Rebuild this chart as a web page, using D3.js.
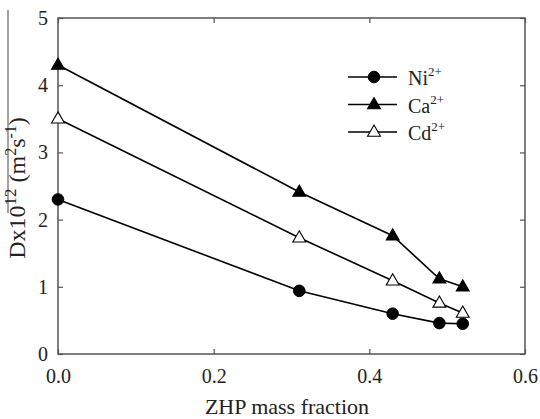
<!DOCTYPE html>
<html><head><meta charset="utf-8">
<script src="https://cdn.jsdelivr.net/npm/d3@7"></script>
</head><body><svg id="c" width="540" height="419"></svg>
<script>
const xValues = [0.0, 0.31, 0.43, 0.49, 0.52];
const niValues = [2.3, 0.94, 0.6, 0.46, 0.45];
const caValues = [4.3, 2.41, 1.76, 1.12, 1.0];
const cdValues = [3.5, 1.73, 1.09, 0.76, 0.61];
const xTicks = [0.0, 0.2, 0.4, 0.6];
const yTicks = [0, 1, 2, 3, 4, 5];
const seriesNames = ["Ni", "Ca", "Cd"];

d3.select("body").style("margin", "0").style("background", "#fff");
const FONT = "Liberation Serif";
const svg = d3.select("#c").style("display", "block");
const m = {l: 58, r: 525, t: 18, b: 354};
const x = d3.scaleLinear().domain([0, 0.6]).range([m.l, m.r]);
const y = d3.scaleLinear().domain([0, 5]).range([m.b, m.t]);
const axisColor = "#555";

svg.append("rect").attr("x", m.l).attr("y", m.t).attr("width", m.r - m.l).attr("height", m.b - m.t)
  .attr("fill", "none").attr("stroke", axisColor).attr("stroke-width", 1.5);

const gx = svg.append("g").attr("transform", `translate(0,${m.b})`)
  .call(d3.axisBottom(x).tickValues(xTicks).tickFormat(d3.format(".1f")).tickSizeInner(-5).tickSizeOuter(0).tickPadding(15));
const gxt = svg.append("g").attr("transform", `translate(0,${m.t})`)
  .call(d3.axisTop(x).tickValues(xTicks).tickFormat("").tickSizeInner(-5).tickSizeOuter(0));
const gy = svg.append("g").attr("transform", `translate(${m.l},0)`)
  .call(d3.axisLeft(y).tickValues(yTicks).tickFormat(d3.format("d")).tickSizeInner(-5).tickSizeOuter(0).tickPadding(10));
const gyr = svg.append("g").attr("transform", `translate(${m.r},0)`)
  .call(d3.axisRight(y).tickValues(yTicks).tickFormat("").tickSizeInner(-5).tickSizeOuter(0));
[gx, gxt, gy, gyr].forEach(g => {
  g.attr("font-family", FONT).attr("font-size", 20);
  g.select(".domain").remove();
  g.selectAll(".tick line").attr("stroke", axisColor).attr("stroke-width", 1.2);
  g.selectAll("text").attr("fill", "#222").attr("font-family", FONT).attr("font-size", 20);
});

svg.append("text").attr("x", 287).attr("y", 414).attr("text-anchor", "middle")
  .attr("font-family", FONT).attr("font-size", 22).attr("fill", "#222").text("ZHP mass fraction");

// y label (with the long overline seen in the reference)
svg.append("line").attr("x1", 8).attr("x2", 8).attr("y1", 10).attr("y2", 213)
  .attr("stroke", "#666").attr("stroke-width", 1.2);
const yl = svg.append("text").attr("transform", "translate(25,188) rotate(-90)").attr("text-anchor", "middle")
  .attr("font-family", FONT).attr("font-size", 24).attr("fill", "#222");
yl.append("tspan").text("Dx10");
yl.append("tspan").attr("dy", -9).attr("font-size", 17).text("12");
yl.append("tspan").attr("dy", 9).text(" (m");
yl.append("tspan").attr("dy", -9).attr("font-size", 16).text("2");
yl.append("tspan").attr("dy", 9).text("s");
yl.append("tspan").attr("dy", -9).attr("font-size", 16).text("-1");
yl.append("tspan").attr("dy", 9).text(")");

const series = [
  {name: "Ni", vals: niValues, shape: "circle", fill: "#000"},
  {name: "Ca", vals: caValues, shape: "triangle", fill: "#000"},
  {name: "Cd", vals: cdValues, shape: "triangle", fill: "#fff"}
];
const line = d3.line().x(d => x(d[0])).y(d => y(d[1]));
function marker(g, s, cx, cy) {
  if (s.shape === "circle") {
    g.append("circle").attr("cx", cx).attr("cy", cy).attr("r", 5.8).attr("fill", s.fill).attr("stroke", "#000").attr("stroke-width", 1);
  } else {
    const sym = d3.symbol().type(d3.symbolTriangle).size(72);
    g.append("path").attr("d", sym()).attr("transform", `translate(${cx},${cy + 0.5})`)
      .attr("fill", s.fill).attr("stroke", "#000").attr("stroke-width", 1.1);
  }
}
series.forEach(s => {
  const pts = xValues.map((xv, i) => [xv, s.vals[i]]);
  svg.append("path").datum(pts).attr("d", line).attr("fill", "none").attr("stroke", "#000").attr("stroke-width", 1.6);
  const g = svg.append("g");
  pts.forEach(p => marker(g, s, x(p[0]), y(p[1])));
});

const lg = svg.append("g");
series.forEach((s, i) => {
  const ly = 77 + i * 27.5;
  lg.append("line").attr("x1", 348).attr("x2", 397).attr("y1", ly).attr("y2", ly).attr("stroke", "#000").attr("stroke-width", 1.6);
  marker(lg, s, 374, ly);
  const t = lg.append("text").attr("x", 408).attr("y", ly + 8).attr("font-family", FONT).attr("font-size", 20).attr("fill", "#222");
  t.append("tspan").text(s.name);
  t.append("tspan").attr("dy", -9).attr("font-size", 13).text("2+");
});
</script></body></html>
